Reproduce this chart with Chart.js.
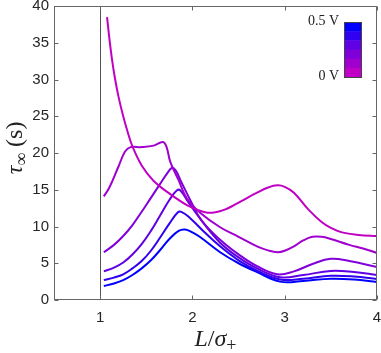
<!DOCTYPE html>
<html>
<head>
<meta charset="utf-8">
<script src="https://cdn.jsdelivr.net/npm/chart.js@4.4.1/dist/chart.umd.min.js"></script>
<style>
  html, body { margin: 0; padding: 0; background: #fff; }
  #wrap { width: 381px; height: 353px; }
</style>
</head>
<body>
<div id="wrap"><canvas id="tauChart" width="381" height="353"></canvas></div>
<script>
// values, one curve per voltage
const voltLabels = ['0 V', '0.1 V', '0.2 V', '0.3 V', '0.4 V', '0.5 V'];

const l0 = [1.075, 1.1, 1.13, 1.16, 1.2, 1.25, 1.3, 1.35, 1.45, 1.58, 1.76, 1.94, 2.05, 2.15, 2.25, 2.35, 2.45, 2.55, 2.7, 2.82, 2.92, 3.0, 3.1, 3.25, 3.4, 3.5, 3.62, 3.8, 4.0];
const tau0 = [38.5, 35.6, 32.6, 30.2, 27.6, 25.0, 22.8, 20.9, 18.3, 16.2, 14.4, 12.9, 12.3, 11.9, 11.95, 12.3, 12.9, 13.6, 14.6, 15.3, 15.6, 15.4, 14.6, 12.4, 10.6, 9.8, 9.2, 8.85, 8.7];

const l1 = [1.04, 1.1, 1.2, 1.27, 1.33, 1.45, 1.58, 1.68, 1.72, 1.76, 1.85, 1.94, 2.09, 2.3, 2.5, 2.7, 2.82, 2.92, 3.0, 3.1, 3.2, 3.3, 3.4, 3.5, 3.7, 3.85, 4.0];
const tau1 = [14.1, 15.3, 18.2, 20.2, 20.8, 20.8, 21.0, 21.5, 20.8, 18.8, 16.3, 13.8, 11.8, 9.9, 8.6, 7.3, 6.75, 6.5, 6.7, 7.3, 8.1, 8.6, 8.6, 8.3, 7.5, 7.0, 6.4];

const l2 = [1.04, 1.15, 1.25, 1.35, 1.45, 1.55, 1.65, 1.73, 1.78, 1.82, 1.87, 1.98, 2.1, 2.3, 2.5, 2.7, 2.92, 3.1, 3.3, 3.5, 3.7, 4.0];
const tau2 = [6.5, 7.5, 8.7, 10.2, 12.0, 13.9, 15.8, 17.3, 18.0, 17.6, 16.3, 13.5, 10.8, 8.2, 6.2, 4.6, 3.5, 3.9, 4.9, 5.6, 5.3, 4.5];

const l3 = [1.04, 1.15, 1.25, 1.35, 1.45, 1.55, 1.65, 1.75, 1.83, 1.87, 1.95, 2.1, 2.3, 2.5, 2.7, 2.95, 3.2, 3.5, 3.75, 4.0];
const tau3 = [3.9, 4.4, 5.1, 6.2, 7.6, 9.4, 11.5, 13.6, 14.9, 14.9, 13.4, 10.8, 7.8, 5.8, 4.3, 3.1, 3.4, 3.95, 3.8, 3.4];

const l4 = [1.04, 1.15, 1.25, 1.35, 1.45, 1.55, 1.65, 1.75, 1.84, 1.88, 1.97, 2.1, 2.3, 2.5, 2.7, 2.95, 3.2, 3.5, 3.75, 4.0];
const tau4 = [2.7, 3.05, 3.5, 4.3, 5.3, 6.7, 8.5, 10.4, 11.9, 12.0, 11.2, 9.6, 7.3, 5.4, 4.0, 2.8, 2.9, 3.3, 3.2, 2.85];

const l5 = [1.04, 1.15, 1.25, 1.35, 1.45, 1.55, 1.65, 1.75, 1.85, 1.92, 2.0, 2.09, 2.3, 2.5, 2.7, 2.95, 3.2, 3.5, 3.75, 4.0];
const tau5 = [1.9, 2.25, 2.7, 3.4, 4.3, 5.4, 6.8, 8.3, 9.4, 9.6, 9.2, 8.5, 6.5, 5.0, 3.8, 2.5, 2.6, 2.9, 2.8, 2.45];

const xTicks = [1, 2, 3, 4];
const yTicks = [0, 5, 10, 15, 20, 25, 30, 35, 40];

// magenta (0 V) -> blue (0.5 V)
const lineColors = ['#c000c4', '#a000cf', '#8000da', '#6000e4', '#3000f0', '#0000ff'];

const xs = [l0, l1, l2, l3, l4, l5];
const ys = [tau0, tau1, tau2, tau3, tau4, tau5];

const datasets = voltLabels.map((lab, i) => ({
  label: lab,
  data: xs[i].map((x, j) => ({ x: x, y: ys[i][j] })),
  borderColor: lineColors[i],
  borderWidth: 2,
  pointRadius: 0,
  fill: false,
  tension: 0.4
}));

const axisColor = '#666';

// box, inward ticks, L = sigma line, axis titles and colour bar
const decor = {
  id: 'decor',
  beforeDatasetsDraw(chart) {
    const { ctx, chartArea: a, scales: { x } } = chart;
    const px = Math.round(x.getPixelForValue(1)) + 0.5;
    ctx.save();
    ctx.strokeStyle = '#555';
    ctx.lineWidth = 1;
    ctx.beginPath();
    ctx.moveTo(px, a.top);
    ctx.lineTo(px, a.bottom);
    ctx.stroke();
    ctx.restore();
  },
  afterDraw(chart) {
    const { ctx, chartArea: a, scales: { x, y } } = chart;
    ctx.save();
    ctx.strokeStyle = axisColor;
    ctx.lineWidth = 1;
    const L = Math.round(a.left) + 0.5, R = Math.round(a.right) - 0.5;
    const T = Math.round(a.top) + 0.5, B = Math.round(a.bottom) - 0.5;
    ctx.strokeRect(L, T, R - L, B - T);
    ctx.beginPath();
    xTicks.forEach(v => {
      const p = Math.round(x.getPixelForValue(v)) + 0.5;
      ctx.moveTo(p, B); ctx.lineTo(p, B - 4);
      ctx.moveTo(p, T); ctx.lineTo(p, T + 4);
    });
    yTicks.forEach(v => {
      const p = Math.round(y.getPixelForValue(v)) + 0.5;
      ctx.moveTo(L, p); ctx.lineTo(L + 4, p);
      ctx.moveTo(R, p); ctx.lineTo(R - 4, p);
    });
    ctx.stroke();

    // y title: tau_inf (s)
    ctx.fillStyle = '#222';
    ctx.translate(22, 148);
    ctx.rotate(-Math.PI / 2);
    const yParts = [
      { t: 'τ', f: 'italic 24px "Liberation Serif"', dy: 0 },
      { t: '∞', f: '18px "Liberation Serif"', dy: 5 },
      { t: ' (s)', f: '24px "Liberation Serif"', dy: 0 }
    ];
    drawParts(ctx, yParts, 0, 0);
    ctx.setTransform(1, 0, 0, 1, 0, 0);

    // x title: L / sigma_+
    const xParts = [
      { t: 'L', f: 'italic 24px "Liberation Serif"', dy: 0 },
      { t: '/', f: '24px "Liberation Serif"', dy: 0 },
      { t: 'σ', f: 'italic 24px "Liberation Serif"', dy: 0 },
      { t: '+', f: '18px "Liberation Serif"', dy: 5 }
    ];
    drawParts(ctx, xParts, (a.left + a.right) / 2, 346);

    // colour bar
    const cbX = 344, cbTop = 22, cbH = 55, cbW = 17;
    const n = lineColors.length;
    for (let i = 0; i < n; i++) {
      ctx.fillStyle = lineColors[n - 1 - i];
      ctx.fillRect(cbX, cbTop + i * cbH / n, cbW, cbH / n + 0.5);
    }
    ctx.strokeStyle = '#444';
    ctx.strokeRect(cbX + 0.5, cbTop + 0.5, cbW, cbH);
    ctx.fillStyle = '#222';
    ctx.font = '14px "Liberation Serif"';
    ctx.textAlign = 'right';
    ctx.textBaseline = 'middle';
    ctx.fillText(voltLabels[n - 1], cbX - 5, cbTop - 1);
    ctx.fillText(voltLabels[0], cbX - 5, cbTop + cbH - 1);
    ctx.restore();
  }
};

function drawParts(ctx, parts, cx, baseY) {
  ctx.textAlign = 'left';
  ctx.textBaseline = 'alphabetic';
  let w = 0;
  parts.forEach(p => { ctx.font = p.f; p.w = ctx.measureText(p.t).width; w += p.w; });
  let cur = cx - w / 2;
  parts.forEach(p => {
    ctx.font = p.f;
    ctx.fillText(p.t, cur, baseY + p.dy);
    cur += p.w;
  });
}

const ctx = document.getElementById('tauChart').getContext('2d');

const tauChart = new Chart(ctx, {
  type: 'line',
  data: { datasets: datasets },
  options: {
    responsive: false,
    animation: false,
    layout: { padding: { left: 0, right: 4, top: 6, bottom: 0 } },
    plugins: { legend: { display: false }, tooltip: { enabled: false } },
    scales: {
      x: {
        type: 'linear',
        min: 0.5,
        max: 4,
        afterBuildTicks: s => { s.ticks = xTicks.map(v => ({ value: v })); },
        afterFit: s => { s.height = 53; s.paddingLeft = 0; s.paddingRight = 0; },
        grid: { display: false, drawTicks: false },
        border: { display: false },
        ticks: { padding: 9, color: '#262626', font: { family: '"Liberation Sans", Arial', size: 15 } }
      },
      y: {
        min: 0,
        max: 40,
        afterBuildTicks: s => { s.ticks = yTicks.map(v => ({ value: v })); },
        afterFit: s => { s.width = 54; s.paddingTop = 0; s.paddingBottom = 0; },
        grid: { display: false, drawTicks: false },
        border: { display: false },
        ticks: { padding: 5, color: '#262626', font: { family: '"Liberation Sans", Arial', size: 15 } }
      }
    }
  },
  plugins: [decor]
});
</script>
</body>
</html>
